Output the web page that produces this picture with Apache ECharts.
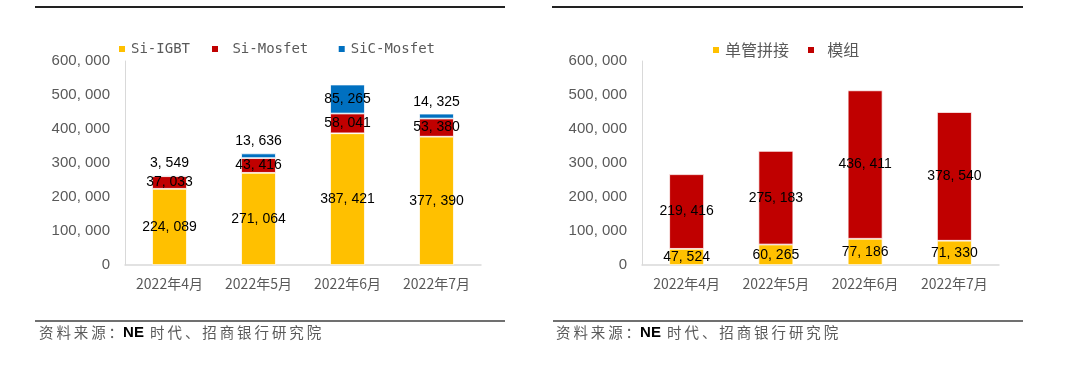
<!DOCTYPE html>
<html>
<head>
<meta charset="utf-8">
<script src="https://cdn.jsdelivr.net/npm/echarts@6/dist/echarts.min.js"></script>
<style>html,body{margin:0;padding:0;background:#fff}#c{width:1080px;height:370px}</style>
</head>
<body>
<div id="c"></div>
<script>
const categories = ['2022年4月', '2022年5月', '2022年6月', '2022年7月'];
const siIGBT = [224089, 271064, 387421, 377390];
const siMosfet = [37033, 43416, 58041, 53380];
const sicMosfet = [3549, 13636, 85265, 14325];
const danguan = [47524, 60265, 77186, 71330];
const mozu = [219416, 275183, 436411, 378540];
const sourceText = ['资料来源：', 'NE', ' 时代、招商银行研究院'];

const YELLOW = '#FFC000', RED = '#C00000', BLUE = '#0070C0';
const GRAY = '#595959';

function fmt(v) {
  return String(v).replace(/\B(?=(\d{3})+(?!\d))/g, ', ');
}
function spaced(s) { return s.split('').join('\u2009'); }

const chart = echarts.init(document.getElementById('c'), null, {renderer: 'canvas'});

const yAxisBase = {
  type: 'value', min: 0, max: 600000, interval: 100000,
  axisLine: {show: true, lineStyle: {color: '#D9D9D9', width: 1}},
  axisTick: {show: false},
  splitLine: {show: false},
  axisLabel: {color: GRAY, fontFamily: 'Liberation Sans', fontSize: 15, margin: 15, formatter: v => fmt(v)}
};
const xAxisBase = {
  type: 'category', data: categories,
  axisLine: {show: true, lineStyle: {color: '#D9D9D9', width: 1.5}},
  axisTick: {show: false},
  axisLabel: {color: GRAY, fontFamily: 'Noto Sans CJK SC', fontSize: 14, margin: 12}
};
const labelBase = {
  show: true, color: '#000', fontFamily: 'Liberation Sans', fontSize: 14,
  formatter: p => fmt(p.value)
};
const itemBorder = {borderColor: '#fff', borderWidth: 0.75};

function barSeries(name, data, color, xi, posFn) {
  return {
    name: name, type: 'bar', stack: 's' + xi, xAxisIndex: xi, yAxisIndex: xi,
    barWidth: '39%',
    itemStyle: Object.assign({color: color}, itemBorder),
    data: data.map(v => ({
      value: v,
      label: Object.assign({}, labelBase, {position: posFn ? posFn(v) : 'inside'})
    })),
    label: labelBase
  };
}

const option = {
  animation: false,
  backgroundColor: '#fff',
  grid: [
    {left: 125, top: 61, width: 356, height: 204},
    {left: 642, top: 61, width: 357, height: 204}
  ],
  xAxis: [Object.assign({gridIndex: 0}, xAxisBase), Object.assign({gridIndex: 1}, xAxisBase)],
  yAxis: [Object.assign({gridIndex: 0}, yAxisBase), Object.assign({gridIndex: 1}, yAxisBase)],
  legend: [
    {
      data: ['Si-IGBT', ' Si-Mosfet ', 'SiC-Mosfet'],
      left: 112, top: 37, itemWidth: 8, itemHeight: 8, itemGap: 20, icon: 'rect',
      textStyle: {color: GRAY, fontFamily: 'DejaVu Sans Mono', fontSize: 14}
    },
    {
      data: ['单管拼接', '  模组'],
      left: 706, top: 37, itemWidth: 8, itemHeight: 8, itemGap: 17, icon: 'rect',
      textStyle: {color: GRAY, fontFamily: 'Noto Sans CJK SC', fontSize: 16}
    }
  ],
  series: [
    barSeries('Si-IGBT', siIGBT, YELLOW, 0),
    barSeries(' Si-Mosfet ', siMosfet, RED, 0),
    barSeries('SiC-Mosfet', sicMosfet, BLUE, 0, v => v < 30000 ? 'top' : 'inside'),
    barSeries('单管拼接', danguan, YELLOW, 1),
    barSeries('  模组', mozu, RED, 1)
  ],
  graphic: [
    {type: 'line', shape: {x1: 35, y1: 7, x2: 505, y2: 7}, style: {stroke: '#222', lineWidth: 2}},
    {type: 'line', shape: {x1: 552, y1: 7, x2: 1023, y2: 7}, style: {stroke: '#222', lineWidth: 2}},
    {type: 'line', shape: {x1: 35, y1: 321, x2: 505, y2: 321}, style: {stroke: '#404040', lineWidth: 1.5}},
    {type: 'line', shape: {x1: 553, y1: 321, x2: 1023, y2: 321}, style: {stroke: '#404040', lineWidth: 1.5}},
    {
      type: 'text', left: 39, top: 325,
      style: {
        text: '{a|' + spaced(sourceText[0]) + '}{b|' + sourceText[1] + '}{a|' + spaced(sourceText[2]) + '}',
        rich: {
          a: {fill: GRAY, fontFamily: 'Noto Sans CJK SC', fontSize: 14.5},
          b: {fill: '#000', fontFamily: 'Liberation Sans', fontSize: 15, fontWeight: 'bold'}
        }
      }
    },
    {
      type: 'text', left: 556, top: 325,
      style: {
        text: '{a|' + spaced(sourceText[0]) + '}{b|' + sourceText[1] + '}{a|' + spaced(sourceText[2]) + '}',
        rich: {
          a: {fill: GRAY, fontFamily: 'Noto Sans CJK SC', fontSize: 14.5},
          b: {fill: '#000', fontFamily: 'Liberation Sans', fontSize: 15, fontWeight: 'bold'}
        }
      }
    }
  ]
};
chart.setOption(option);
</script>
</body>
</html>
